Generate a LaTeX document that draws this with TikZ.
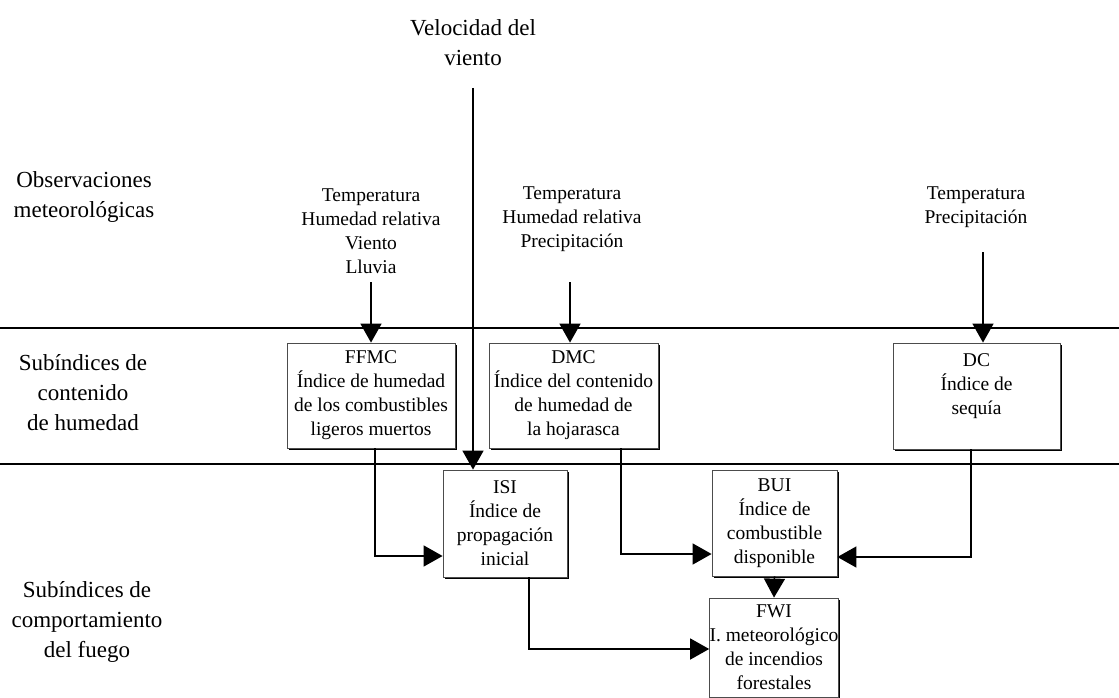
\documentclass[tikz,border=0pt]{standalone}
\usepackage{fontspec}
\setmainfont{Liberation Serif}
\usetikzlibrary{arrows.meta,shadows,calc}
\begin{document}
\begin{tikzpicture}[x=1pt,y=-1pt,
  boxtxt/.style={font=\fontsize{19.5}{24}\selectfont},
  biglbl/.style={font=\fontsize{23}{30}\selectfont, align=center, inner sep=0pt},
  inlbl/.style={boxtxt, align=center, inner sep=0pt},
  idxbox/.style={boxtxt, draw=black!70, line width=0.8pt, fill=white, align=center, inner sep=0pt,
    drop shadow={shadow xshift=1.6pt, shadow yshift=-1.6pt, fill=black, opacity=1}},
  sep/.style={line width=1.5pt},
  arr/.style={line width=1.5pt, -{Triangle[length=19pt,width=21pt]}}]
\useasboundingbox (0,0) rectangle (1119,698);
% separator lines
\coordinate (l1a) at (0,328); \coordinate (l1b) at (1119,328);
\coordinate (l2a) at (0,464); \coordinate (l2b) at (1119,464);
\draw[sep] (l1a) -- (l1b);
\draw[sep] (l2a) -- (l2b);
% left labels
\node[biglbl] (obs) at (84,197) {Observaciones\\meteorológicas};
\node[biglbl] (subh) at (83,393) {Subíndices de\\contenido\\de humedad};
\node[biglbl] (subc) at (87,622) {Subíndices de\\comportamiento\\del fuego};
% wind
\node[biglbl] (vel) at (473,43) {Velocidad del\\viento};
% inputs
\node[inlbl] (in1) at (371,231) {Temperatura\\Humedad relativa\\Viento\\Lluvia};
\node[inlbl] (in2) at (572,219) {Temperatura\\Humedad relativa\\Precipitación};
\node[inlbl] (in3) at (976,207) {Temperatura\\Precipitación};
% boxes
\node[idxbox, minimum width=168pt, minimum height=105pt] (ffmc) at (371,395.5)
  {FFMC\\Índice de humedad\\de los combustibles\\ligeros muertos};
\node[idxbox, minimum width=169pt, minimum height=105pt] (dmc) at (573.5,395.5)
  {DMC\\Índice del contenido\\de humedad de\\la hojarasca};
\node[idxbox, minimum width=167pt, minimum height=106pt] (dc) at (976.5,396)
  {DC\\Índice de\\sequía\\\phantom{X}};
\node[idxbox, minimum width=124pt, minimum height=107pt] (isi) at (505,523.5)
  {ISI\\Índice de\\propagación\\inicial};
\node[idxbox, minimum width=125pt, minimum height=106pt] (bui) at (774.5,523)
  {BUI\\Índice de\\combustible\\disponible};
\node[idxbox, minimum width=124pt, minimum height=99pt] (fwi) at (774,647.5)
  {FWI\\I. meteorológico\\de incendios\\forestales};
% input arrows
\coordinate (a1) at (371,282);
\coordinate (a2) at (570,282);
\coordinate (a3) at (983,252);
\draw[arr] (a1) -- (a1 |- ffmc.north);
\draw[arr] (a2) -- (a2 |- dmc.north);
\draw[arr] (a3) -- (a3 |- dc.north);
% wind arrow
\coordinate (w) at (473,88);
\draw[arr] (w) -- (w |- isi.north);
% flows
\coordinate (f1) at (375,0);
\coordinate (f2) at (621,0);
\coordinate (f3) at (971,0);
\coordinate (f4) at (529,0);
\draw[arr] (f1 |- ffmc.south) -- (375,556) -- (isi.west |- 0,556);
\draw[arr] (f2 |- dmc.south) -- (621,554) -- (bui.west |- 0,554);
\draw[arr] (f3 |- dc.south) -- (971,557) -- (bui.east |- 0,557);
\draw[arr] (f4 |- isi.south) -- (529,649) -- (fwi.west |- 0,649);
\draw[arr] (bui.south) -- (fwi.north);
\end{tikzpicture}
\end{document}
